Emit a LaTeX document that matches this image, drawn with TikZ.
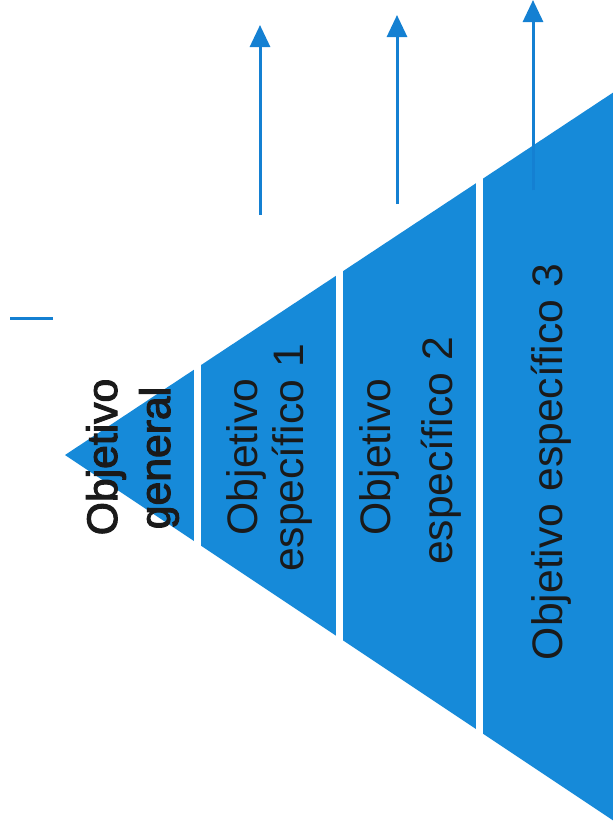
\documentclass[tikz,border=0pt]{standalone}
\usepackage{fontspec}
\setmainfont{Liberation Sans}
\newfontfamily\heavysans{Liberation Sans}[FakeBold=2.5]
\usetikzlibrary{arrows.meta}

\definecolor{funnelblue}{HTML}{168AD9}
\definecolor{arrowblue}{HTML}{1480D2}
\definecolor{textgray}{HTML}{1A1A1A}

\tikzset{
  objtext/.style={rotate=90, anchor=base, inner sep=0pt, text=textgray,
    font=\fontsize{32}{36}\selectfont},
  objheavy/.style={objtext, font=\heavysans\fontsize{32}{36}\selectfont},
  goalarrow/.style={draw=arrowblue, line width=2.25pt,
    -{Triangle[length=16.5pt,width=15pt]}},
  gapline/.style={draw=white, line width=5.25pt}
}

\begin{document}
\begin{tikzpicture}[x=0.75pt,y=-0.75pt]
  \useasboundingbox (0,0) rectangle (613,833);

  % embudo
  \begin{scope}
    \clip (0,0) rectangle (613,833);
    \fill[funnelblue] (65,455) -- (620,88) -- (620,825) -- cycle;
  \end{scope}

  % separaciones blancas
  \foreach \gx in {197.5,339,479.5}
    \draw[gapline] (\gx,0) -- (\gx,833);

  % textos
  \node[objheavy] (og1) at (117,457) {Objetivo};
  \node[objheavy] (og2) at (170,458) {general};

  \node[objtext] (oa1) at (257,457) {Objetivo};
  \node[objtext] (oa2) at (303,458) {específico 1};

  \node[objtext] (ob1) at (390,457) {Objetivo};
  \node[objtext] (ob2) at (452,451) {específico 2};

  \node[objtext] (oc1) at (562,462) {Objetivo específico 3};

  % flechas
  \coordinate (f1s) at (260,215);
  \coordinate (f1e) at (260,25);
  \coordinate (f2s) at (397,204);
  \coordinate (f2e) at (397,15);
  \coordinate (f3s) at (533,190);
  \coordinate (f3e) at (533,0);
  \draw[goalarrow] (f1s) -- (f1e);
  \draw[goalarrow] (f2s) -- (f2e);
  \draw[goalarrow] (f3s) -- (f3e);

  % trazo suelto
  \coordinate (t1) at (10,318);
  \coordinate (t2) at (53,318);
  \draw[arrowblue, line width=2.25pt] (t1) -- (t2);
\end{tikzpicture}
\end{document}
